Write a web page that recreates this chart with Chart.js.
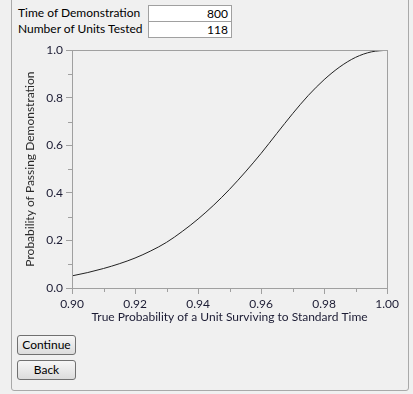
<!DOCTYPE html>
<html>
<head>
<meta charset="utf-8">
<script src="https://cdn.jsdelivr.net/npm/chart.js@4.4.0/dist/chart.umd.min.js"></script>
<style>
  html, body { margin:0; padding:0; width:413px; height:394px; background:#f0f0f0; overflow:hidden; font-family:Lato, sans-serif; }
  #panel { position:absolute; left:11px; top:-10px; width:398px; height:401px; border:1px solid #a9a9a9; border-radius:3px; box-sizing:border-box; }
  .lbl { position:absolute; left:18px; font-size:12px; color:#000; line-height:16px; }
  .box { position:absolute; left:148px; width:84px; height:17px; background:#fff; border:1px solid #a0a0a0; box-sizing:border-box; text-align:right; font-size:12px; line-height:15px; padding-right:3px; color:#000; }
  .btn { position:absolute; left:17px; width:59px; height:20px; border:1px solid #707070; border-radius:3px; box-sizing:border-box; background:linear-gradient(#f6f6f6,#dcdcdc); font-size:12px; text-align:center; line-height:18px; color:#000; }
  #wrap { position:absolute; left:12px; top:40px; width:390px; height:290px; }
</style>
</head>
<body>
<div id="panel"></div>
<div class="lbl" style="top:5px" id="l1"></div>
<div class="lbl" style="top:21px" id="l2"></div>
<div class="box" style="top:5px" id="v1"></div>
<div class="box" style="top:21px" id="v2"></div>
<div class="btn" style="top:335px">Continue</div>
<div class="btn" style="top:360px">Back</div>
<div id="wrap"><canvas id="c" width="390" height="290"></canvas></div>
<script>
const headerLabels = ["Time of Demonstration", "Number of Units Tested"];
const headerValues = ["800", "118"];
const xValues = [0.900, 0.905, 0.910, 0.915, 0.920, 0.925, 0.930, 0.935, 0.940, 0.945, 0.950, 0.955, 0.960, 0.965, 0.970, 0.975, 0.980, 0.985, 0.990, 0.995, 1.000];
const yValues = [0.051, 0.065, 0.082, 0.102, 0.126, 0.156, 0.192, 0.238, 0.290, 0.349, 0.415, 0.488, 0.566, 0.650, 0.733, 0.810, 0.876, 0.930, 0.970, 0.993, 1.000];
const xTitle = "True Probability of a Unit Surviving to Standard Time";
const yTitle = "Probability of Passing Demonstration";

document.getElementById('l1').textContent = headerLabels[0];
document.getElementById('l2').textContent = headerLabels[1];
document.getElementById('v1').textContent = headerValues[0];
document.getElementById('v2').textContent = headerValues[1];

const points = xValues.map((x, i) => ({x: x, y: yValues[i]}));
const axisColor = '#a0a0a0';
const fontSpec = {family: 'Lato, sans-serif', size: 12};
const textColor = '#1c1c34';

const frameAndMinor = {
  id: 'frameAndMinor',
  afterDraw(chart) {
    const ctx = chart.ctx, a = chart.chartArea;
    const xs = chart.scales.x, ys = chart.scales.y;
    ctx.save();
    ctx.strokeStyle = axisColor;
    ctx.lineWidth = 1;
    ctx.strokeRect(Math.round(a.left) + 0.5, Math.round(a.top) + 0.5, Math.round(a.right - a.left), Math.round(a.bottom - a.top));
    ctx.beginPath();
    for (let v = 0.1; v < 1; v += 0.2) {
      const py = Math.round(ys.getPixelForValue(v)) + 0.5;
      ctx.moveTo(a.left - 4, py); ctx.lineTo(a.left, py);
    }
    for (let v = 0.91; v < 1; v += 0.02) {
      const px = Math.round(xs.getPixelForValue(v)) + 0.5;
      ctx.moveTo(px, a.bottom); ctx.lineTo(px, a.bottom + 4);
    }
    ctx.stroke();
    ctx.restore();
  }
};

new Chart(document.getElementById('c'), {
  type: 'line',
  data: { datasets: [{ data: points, borderColor: '#222', borderWidth: 1, pointRadius: 0, fill: false, cubicInterpolationMode: 'monotone' }] },
  options: {
    responsive: false, animation: false,
    layout: { padding: { top: 8, right: 10, left: 0, bottom: 0 } },
    plugins: { legend: { display: false }, tooltip: { enabled: false } },
    scales: {
      x: {
        type: 'linear', min: 0.9, max: 1.0,
        afterFit(s) { s.height = 42; },
        ticks: { stepSize: 0.02, color: textColor, font: fontSpec, padding: 3, maxRotation: 0, callback: v => v.toFixed(2) },
        grid: { drawOnChartArea: false, drawTicks: true, tickLength: 6, color: axisColor },
        border: { color: axisColor },
        title: { display: true, text: xTitle, color: textColor, font: fontSpec, padding: { top: 0, bottom: 6 } }
      },
      y: {
        type: 'linear', min: 0, max: 1,
        afterFit(s) { s.width = 60; },
        ticks: { stepSize: 0.2, color: textColor, font: fontSpec, padding: 3, callback: v => v.toFixed(1) },
        grid: { drawOnChartArea: false, drawTicks: true, tickLength: 6, color: axisColor },
        border: { color: axisColor },
        title: { display: true, text: yTitle, color: '#2a2a2a', font: fontSpec, padding: { top: 11, bottom: 4 } }
      }
    }
  },
  plugins: [frameAndMinor]
});
</script>
</body>
</html>
